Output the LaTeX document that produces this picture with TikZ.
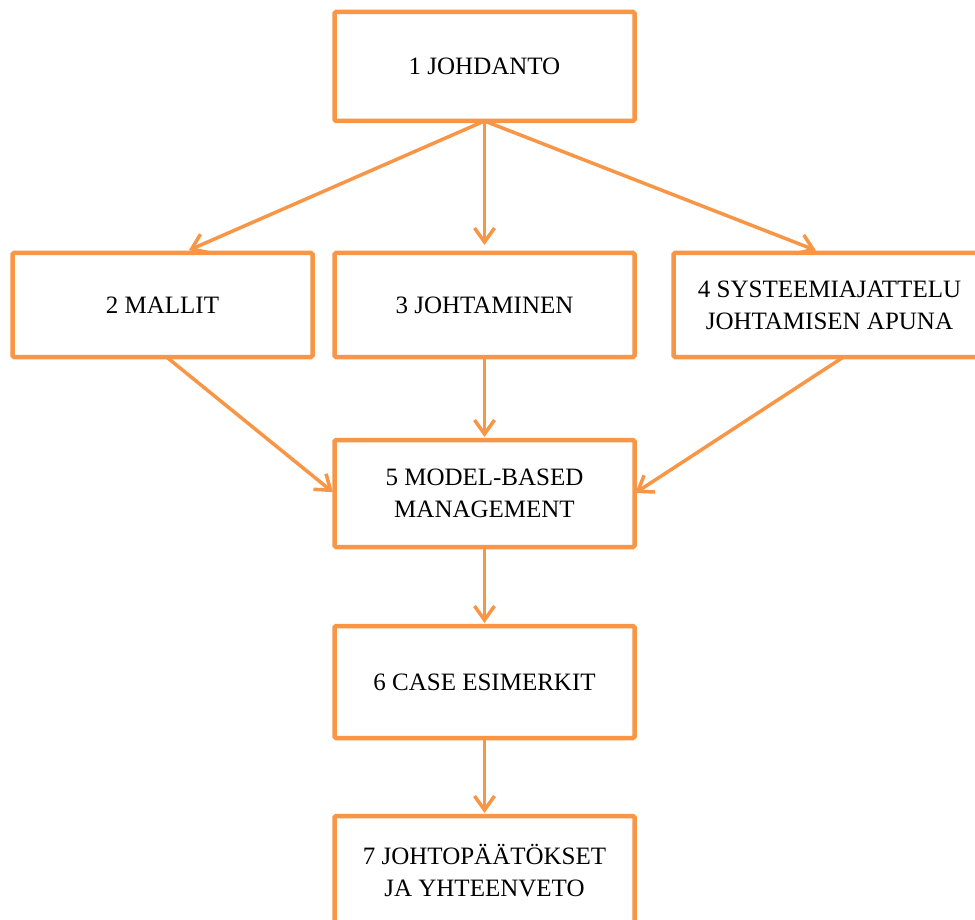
\documentclass[tikz,border=0pt]{standalone}
\usepackage{fontspec}
\setmainfont{Liberation Serif}
\usepackage{tikz}
\usetikzlibrary{arrows.meta,positioning}
\definecolor{Orange}{RGB}{247,150,70}
\tikzset{
  chapbox/.style={draw=Orange,line width=4.5pt,rounded corners=1.5pt,fill=white,minimum width=300pt,minimum height=106pt,inner sep=0pt,outer sep=0pt,align=center,font=\fontsize{25}{32}\selectfont},
  flow/.style={-{Straight Barb[length=14pt,width=20pt]},line width=3.5pt,line cap=round,draw=Orange}
}
\begin{document}
\begin{tikzpicture}[x=1pt,y=-1pt]
\useasboundingbox (0,0) rectangle (975,920);
\node[chapbox,minimum height=109pt] (intro) at (484.5,66.5) {1 JOHDANTO};
\node[chapbox,minimum height=104pt,below=132pt of intro] (leading) {3 JOHTAMINEN};
\node[chapbox,minimum height=104pt,left=22pt of leading] (models) {2 MALLIT};
\node[chapbox,minimum height=104pt,minimum width=312pt,right=39pt of leading] (systems) {4 SYSTEEMIAJATTELU\\JOHTAMISEN APUNA};
\node[chapbox,minimum height=107pt,below=83pt of leading] (mbm) {5 MODEL-BASED\\MANAGEMENT};
\node[chapbox,minimum height=112pt,below=79pt of mbm] (cases) {6 CASE ESIMERKIT};
\node[chapbox,minimum height=109pt,below=78pt of cases] (summary) {7 JOHTOPÄÄTÖKSET\\JA YHTEENVETO};
\draw[flow,shorten >=7pt] (intro.south) -- ([xshift=20pt]models.north);
\draw[flow,shorten >=8pt] (intro.south) -- (leading.north);
\draw[flow,shorten >=7pt] (intro.south) -- ([xshift=-7pt]systems.north);
\draw[flow,shorten >=2pt] ([xshift=4pt]models.south) -- (mbm.west);
\draw[flow,shorten >=3pt] (leading.south) -- (mbm.north);
\draw[flow,shorten >=1pt] ([xshift=14pt]systems.south) -- (mbm.east);
\draw[flow,shorten >=3pt] (mbm.south) -- (cases.north);
\draw[flow,shorten >=3pt] (cases.south) -- (summary.north);
\end{tikzpicture}
\end{document}
